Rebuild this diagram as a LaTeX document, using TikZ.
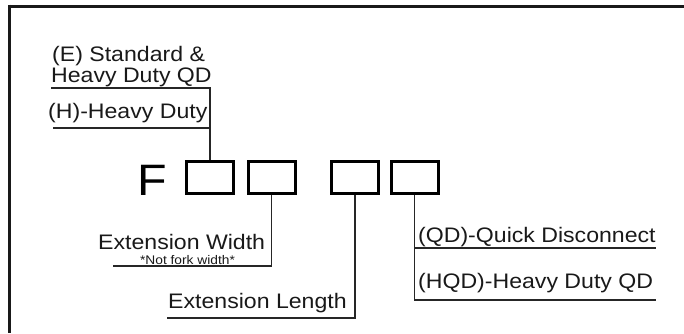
\documentclass[tikz,border=0pt]{standalone}
\usepackage{fontspec}
\setmainfont{Liberation Sans}[FakeStretch=1.1]
\begin{document}
\begin{tikzpicture}[x=1pt,y=-1pt,
  box/.style={draw, line width=3pt, minimum width=47pt, minimum height=32pt, inner sep=0pt},
  lbl/.style={anchor=base west, inner sep=0pt, text=black!90, font=\fontsize{21}{24}\selectfont},
  conn/.style={line width=1.5pt, black!85},
  frame/.style={line width=3pt, black!90}]
\useasboundingbox (0,0) rectangle (684,333);
% frame
\coordinate (ftr) at (684,6);
\coordinate (ftl) at (8,6);
\coordinate (fbl) at (9.5,333);
\draw[frame] (ftr) -- (ftl);
\draw[frame] (9.5,4.5) -- (fbl);
% code
\node[anchor=base west, inner sep=0pt, font=\fontsize{44}{48}\selectfont] (F) at (137,195) {F};
\node[box] (b1) at (210,177.5) {};
\node[box] (b2) at (271.5,177.5) {};
\node[box] (b3) at (355,177.5) {};
\node[box] (b4) at (414.5,177.5) {};
% labels
\node[lbl] (tE1) at (52,61) {(E) Standard \&};
\node[lbl] (tE2) at (51,82) {Heavy Duty QD};
\node[lbl] (tH) at (48,118) {(H)-Heavy Duty};
\node[lbl] (tW) at (98,249) {Extension Width};
\node[anchor=base, inner sep=0pt, text=black!90, font=\fontsize{12.5}{13}\selectfont] (tN) at (187.5,264) {*Not fork width*};
\node[lbl] (tL) at (168,308) {Extension Length};
\node[lbl] (tQ) at (418,242) {(QD)-Quick Disconnect};
\node[lbl] (tHQ) at (418,288) {(HQD)-Heavy Duty QD};
% connectors
\coordinate (j1) at (210,88);
\coordinate (e1) at (51,88);
\coordinate (j2) at (210,128);
\coordinate (e2) at (53,128);
\draw[conn] (b1.north) -- (j1) -- (e1);
\draw[conn] (j2) -- (e2);
\coordinate (e3) at (113,266);
\draw[conn] (b2.south) |- (e3);
\coordinate (e4) at (167,318);
\draw[conn] (b3.south) |- (e4);
\coordinate (e5) at (656,300);
\draw[conn] (b4.south) |- (e5);
\coordinate (j6) at (414.5,248);
\coordinate (e6) at (656,248);
\draw[conn] (j6) -- (e6);
\end{tikzpicture}
\end{document}
